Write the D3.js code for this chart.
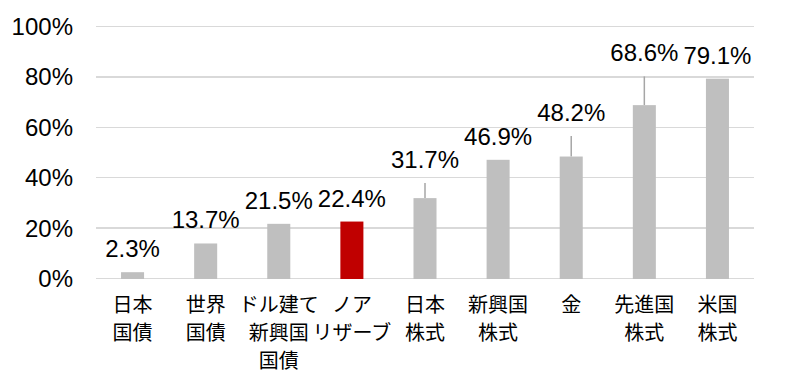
<!DOCTYPE html>
<html lang="ja">
<head>
    <meta charset="UTF-8">
    <title>資産別リターン</title>
    <style>
        body{ margin:0; background:#fff; }
        .grid line{ stroke:#d9d9d9; stroke-width:1.5; shape-rendering:crispEdges; }
        .grid path{ display:none; }
        .axis text{ font: 24px "Liberation Sans", Arial, sans-serif; fill:#000; }
        .axis path, .axis line{ display:none; }
        .bar{ fill:#bfbfbf; }
        .bar--hl{ fill:#c00000; }
        .whisker{ stroke:#a6a6a6; stroke-width:1.5; }
        .value{ font: 24px "Liberation Sans", Arial, sans-serif; fill:#000; text-anchor:middle; }
        .cat{ font: 20px "Noto Sans CJK JP", sans-serif; fill:#000; text-anchor:middle; }
    </style>
</head>
<body>
    <svg width="802" height="377"></svg>
    <script src="https://d3js.org/d3.v7.min.js"></script>
    <script>
        // data
        var categories = ["日本\n国債", "世界\n国債", "ドル建て\n新興国\n国債", "ノア\nリザーブ", "日本\n株式", "新興国\n株式", "金", "先進国\n株式", "米国\n株式"];
        var values = [2.3, 13.7, 21.5, 22.4, 31.7, 46.9, 48.2, 68.6, 79.1];
        var upper = [null, null, null, null, 37.7, null, 56.3, 80.0, null];  // thin line above some bars
        var highlight = "ノア\nリザーブ";
        var yTicks = [0, 20, 40, 60, 80, 100];

        var svg = d3.select("svg"),
            margin = {top: 26, right: 48, bottom: 99, left: 96},
            width = +svg.attr("width") - margin.left - margin.right,
            height = +svg.attr("height") - margin.top - margin.bottom;

        var x = d3.scaleBand().domain(categories).range([0, width])
            .paddingInner(0.685).paddingOuter(0.3425);
        var y = d3.scaleLinear().domain([0, 100]).range([height, 0]);

        var g = svg.append("g")
            .attr("transform", "translate(" + margin.left + "," + margin.top + ")");

        g.append("g")
            .attr("class", "grid")
            .call(d3.axisLeft(y).tickValues(yTicks).tickSize(-width).tickFormat(""));

        g.append("g")
            .attr("class", "axis")
            .attr("transform", "translate(-20,0)")
            .call(d3.axisLeft(y).tickValues(yTicks).tickSize(0).tickFormat(function(d){ return d + "%"; }))
            .selectAll("text").attr("dy", "0.35em");

        var data = categories.map(function(c, i){ return {name: c, value: values[i], upper: upper[i]}; });

        g.selectAll(".whisker")
            .data(data.filter(function(d){ return d.upper != null; }))
            .enter().append("line")
            .attr("class", "whisker")
            .attr("x1", function(d){ return x(d.name) + x.bandwidth() / 2; })
            .attr("x2", function(d){ return x(d.name) + x.bandwidth() / 2; })
            .attr("y1", function(d){ return y(d.value); })
            .attr("y2", function(d){ return y(d.upper); });

        g.selectAll(".bar")
            .data(data)
            .enter().append("rect")
            .attr("class", function(d){ return "bar" + (d.name === highlight ? " bar--hl" : ""); })
            .attr("x", function(d){ return x(d.name); })
            .attr("y", function(d){ return y(d.value); })
            .attr("width", x.bandwidth())
            .attr("height", function(d){ return height - y(d.value) + 1; });

        g.selectAll(".value")
            .data(data)
            .enter().append("text")
            .attr("class", "value")
            .attr("x", function(d){ return x(d.name) + x.bandwidth() / 2; })
            .attr("y", function(d){ return y(Math.max(d.value, d.upper || 0)) - 15; })
            .text(function(d){ return d.value.toFixed(1) + "%"; });

        var cats = g.selectAll(".cat")
            .data(data)
            .enter().append("text")
            .attr("class", "cat")
            .attr("transform", function(d){ return "translate(" + (x(d.name) + x.bandwidth() / 2) + "," + (height + 34) + ")"; });

        cats.selectAll("tspan")
            .data(function(d){ return d.name.split("\n"); })
            .enter().append("tspan")
            .attr("x", 0)
            .attr("y", function(d, i){ return i * 28; })
            .text(function(d){ return d; });
    </script>
</body>
</html>
